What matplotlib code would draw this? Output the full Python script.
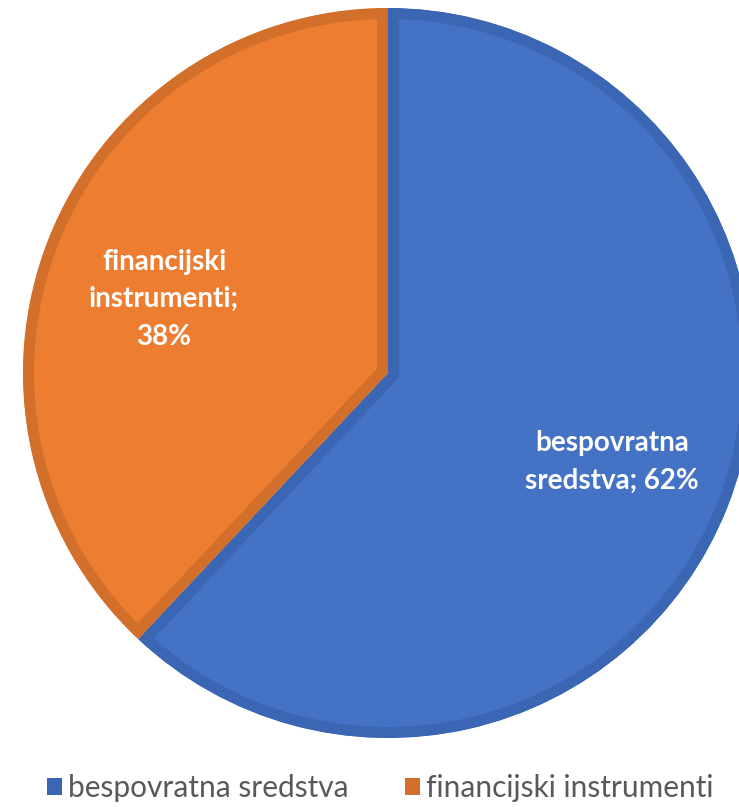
import matplotlib.pyplot as plt
from matplotlib.patches import Patch

# data
categories = ['bespovratna sredstva', 'financijski instrumenti']
shares = [62, 38]
data_labels = ['bespovratna\nsredstva; 62%', 'financijski\ninstrumenti;\n38%']

face_colors = ['#4472C4', '#ED7D31']
edge_colors = ['#3B66B4', '#D26F2A']

W, H = 739, 807
fig = plt.figure(figsize=(W / 100, H / 100), dpi=100)
ax = fig.add_axes([0, 0, 1, 1])

wedges, texts = ax.pie(shares, labels=data_labels, colors=face_colors,
                       startangle=90, counterclock=False,
                       center=(388, H - 373), radius=365,
                       labeldistance=0.66, frame=True,
                       wedgeprops=dict(linewidth=0),
                       textprops=dict(color='white', fontsize=20, fontweight='bold',
                                      family='Lato', linespacing=1.55))
ax.set_xlim(0, W)
ax.set_ylim(0, H)
ax.axis('off')

# inner border like the office chart style
for w, ec in zip(wedges, edge_colors):
    w.set_edgecolor(ec)
    w.set_linewidth(22 * 72 / 100)
    w.set_clip_on(True)
    w.set_clip_path(w)

for t in texts:
    t.set_horizontalalignment('center')
    t.set_verticalalignment('center')
# the small slice label sits a bit lower in the original
x0, y0 = texts[1].get_position()
texts[1].set_position((x0, y0 - 15))

handles = [Patch(facecolor=c, edgecolor='none', label=l) for c, l in zip(edge_colors, categories)]
leg = ax.legend(handles=handles, loc='center', bbox_to_anchor=(380 / W, 19 / H),
                ncol=2, frameon=False, handlelength=0.5, handleheight=0.5,
                handletextpad=0.2, columnspacing=1.9,
                prop=dict(family='Lato', size=21.5))
for t in leg.get_texts():
    t.set_color('#595959')

fig.savefig('out.png', dpi=100)
